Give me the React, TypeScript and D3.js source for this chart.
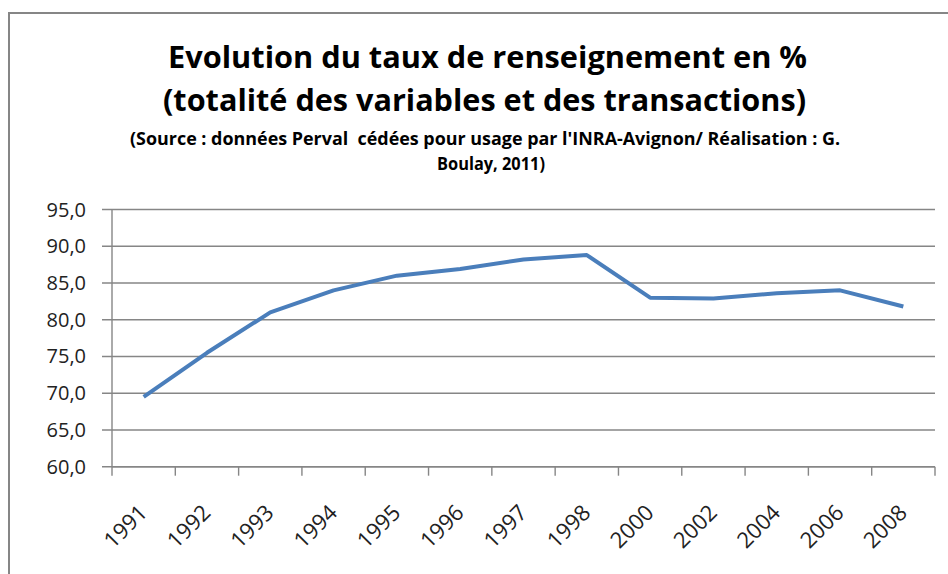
import * as React from "react";
import * as d3 from "d3";

const years = ["1991", "1992", "1993", "1994", "1995", "1996", "1997", "1998", "2000", "2002", "2004", "2006", "2008"];
const taux = [69.5, 75.5, 81.0, 84.0, 86.0, 86.9, 88.2, 88.8, 83.0, 82.9, 83.6, 84.0, 81.8];
const yTicks = [60, 65, 70, 75, 80, 85, 90, 95];
const titleLines = ["Evolution du taux de renseignement en %", "(totalité des variables et des transactions)"];
const sourceLines = ["(Source : données Perval  cédées pour usage par l'INRA-Avignon/ Réalisation : G.", "Boulay, 2011)"];

const W = 948;
const H = 574;
const plot = { left: 112, right: 935, top: 209.5, bottom: 466.7 };
const grey = "#868686";
const font = "'Open Sans', 'Noto Sans', sans-serif";

export default function App() {
  const x = d3.scaleBand<string>().domain(years).range([plot.left, plot.right]).padding(0);
  const y = d3.scaleLinear().domain([60, 95]).range([plot.bottom, plot.top]);
  const cx = (yr: string) => (x(yr) as number) + x.bandwidth() / 2;

  const line = d3
    .line<number>()
    .x((_, i) => cx(years[i]))
    .y((d) => y(d));

  // tick positions sit on the band boundaries, like Excel
  const xTickPos = years.map((yr) => x(yr) as number).concat([plot.right]);

  const fmt = (v: number) => v.toFixed(1).replace(".", ",");

  return (
    <svg width={W} height={H} style={{ position: "absolute", left: 0, top: 0, background: "#fff" }}>
      <rect x={9} y={13} width={W + 20} height={H + 20} fill="#fff" stroke={grey} strokeWidth={2} />

      {/* titles */}
      <text x={168} y={68} fontFamily={font} fontWeight="bold" fontSize={30} fill="#000"
        textLength={639} lengthAdjust="spacingAndGlyphs">{titleLines[0]}</text>
      <text x={163} y={111} fontFamily={font} fontWeight="bold" fontSize={30} fill="#000"
        textLength={643} lengthAdjust="spacingAndGlyphs">{titleLines[1]}</text>
      <text x={130} y={145} fontFamily={font} fontWeight="bold" fontSize={17} fill="#000"
        textLength={710} lengthAdjust="spacingAndGlyphs" style={{ whiteSpace: "pre" }}>{sourceLines[0]}</text>
      <text x={437} y={170} fontFamily={font} fontWeight="bold" fontSize={17} fill="#000"
        textLength={108} lengthAdjust="spacingAndGlyphs">{sourceLines[1]}</text>

      {/* gridlines + y ticks */}
      {yTicks.map((t) => (
        <g key={t}>
          <line x1={plot.left - 10} x2={plot.right} y1={y(t)} y2={y(t)} stroke={grey} strokeWidth={1.4} />
          <text x={86} y={y(t) + 7} textAnchor="end" fontFamily={font} fontSize={20} fill="#222">
            {fmt(t)}
          </text>
        </g>
      ))}

      {/* axes */}
      <line x1={plot.left} x2={plot.left} y1={plot.top} y2={plot.bottom} stroke={grey} strokeWidth={1.4} />
      <line x1={plot.left} x2={plot.right} y1={plot.bottom} y2={plot.bottom} stroke={grey} strokeWidth={1.6} />
      {xTickPos.map((p, i) => (
        <line key={i} x1={p} x2={p} y1={plot.bottom} y2={plot.bottom + 9} stroke={grey} strokeWidth={1.4} />
      ))}
      {years.map((yr) => (
        <text key={yr} transform={`translate(${cx(yr) + 5},${514}) rotate(-45)`} textAnchor="end"
          fontFamily={font} fontSize={22} fill="#222">
          {yr}
        </text>
      ))}

      <path d={line(taux) ?? ""} fill="none" stroke="#4A7EBB" strokeWidth={4} strokeLinejoin="round" />
    </svg>
  );
}
